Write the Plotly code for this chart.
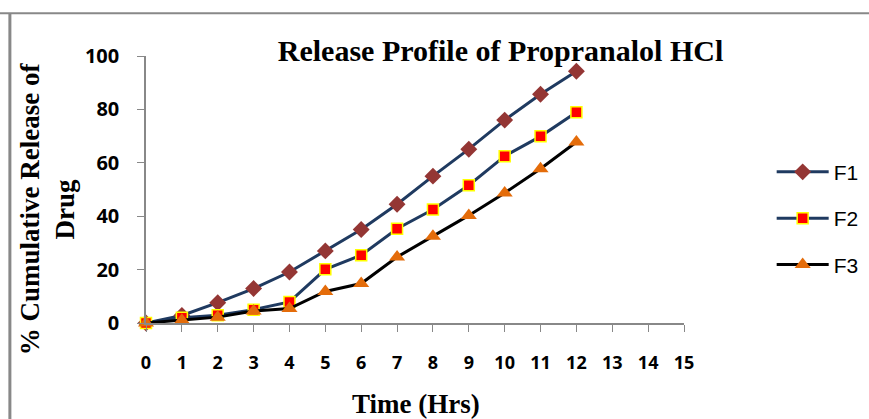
import plotly.graph_objects as go

time_hrs = [0, 1, 2, 3, 4, 5, 6, 7, 8, 9, 10, 11, 12]
f1 = [0, 2.8, 7.6, 12.9, 19.1, 27.0, 35.0, 44.5, 55.0, 65.1, 76.0, 85.7, 94.3]
f2 = [0, 2.0, 2.9, 5.0, 7.9, 20.1, 25.4, 35.3, 42.5, 51.6, 62.5, 69.9, 78.9]
f3 = [0, 1.0, 2.2, 4.5, 5.4, 11.8, 14.8, 24.7, 32.5, 40.3, 48.7, 57.8, 67.8]
x_ticks = list(range(0, 16))
y_ticks = [0, 20, 40, 60, 80, 100]

fig = go.Figure()
fig.add_trace(go.Scatter(
    x=time_hrs, y=f1, name="F1", mode="lines+markers", legendgroup="a",
    line=dict(color="#1F3A60", width=3),
    marker=dict(symbol="diamond", size=13, color="#943634"),
    cliponaxis=False))
fig.add_trace(go.Scatter(
    x=time_hrs, y=f2, name="F2", mode="lines+markers", legendgroup="b",
    line=dict(color="#1F3A60", width=3),
    marker=dict(symbol="square", size=11, color="#FF0000",
                line=dict(color="#FFFF00", width=1.5)),
    cliponaxis=False))
fig.add_trace(go.Scatter(
    x=time_hrs, y=f3, name="F3", mode="lines+markers", legendgroup="c",
    line=dict(color="#000000", width=3),
    marker=dict(symbol="triangle-up", size=14, color="#E46C0A"),
    cliponaxis=False))

axis_common = dict(showgrid=False, zeroline=False, showline=True,
                   linecolor="#888888", linewidth=1.5, ticks="outside",
                   tickcolor="#888888", ticklen=7, automargin=False)

fig.update_xaxes(range=[0, 15], tickvals=x_ticks,
                 ticktext=[str(v) for v in x_ticks],
                 tickfont=dict(family="Open Sans", size=18, color="#000000",
                               weight="bold"),
                 ticklabelstandoff=16,
                 **axis_common)
fig.update_yaxes(range=[0, 100], tickvals=y_ticks,
                 tickfont=dict(family="Open Sans", size=20, color="#000000",
                               weight="bold"),
                 ticklabelstandoff=14,
                 **axis_common)

fig.update_layout(
    width=869, height=419,
    margin=dict(l=146, r=185, t=56, b=96),
    paper_bgcolor="white", plot_bgcolor="white",
    title=dict(text="<b>Release Profile of Propranalol HCl</b>",
               font=dict(family="Liberation Serif", size=30, color="#000"),
               x=0.576, xanchor="center", y=0.88, yanchor="middle"),
    legend=dict(xref="container", yref="container", x=0.888, y=0.638,
                xanchor="left", yanchor="top",
                font=dict(family="Liberation Sans", size=21, color="#000"),
                itemwidth=52,
                tracegroupgap=16, bgcolor="rgba(0,0,0,0)"),
    annotations=[
        dict(text="<b>% Cumulative Release of<br>Drug</b>", textangle=-90,
             xref="paper", yref="paper", x=-0.184, y=0.426,
             xanchor="center", yanchor="middle", showarrow=False,
             font=dict(family="Liberation Serif", size=27, color="#000")),
        dict(text="<b>Time (Hrs)</b>",
             xref="paper", yref="paper", x=0.502, y=-0.302,
             xanchor="center", yanchor="middle", showarrow=False,
             font=dict(family="Liberation Serif", size=27, color="#000")),
    ],
    shapes=[
        dict(type="line", xref="paper", yref="paper", x0=-0.316, x1=1.4,
             y0=1.16, y1=1.16, line=dict(color="#888888", width=2)),
        dict(type="line", xref="paper", yref="paper", x0=-0.253, x1=-0.253,
             y0=1.16, y1=-0.5, line=dict(color="#888888", width=3)),
    ],
)

fig.write_html("out.html")
